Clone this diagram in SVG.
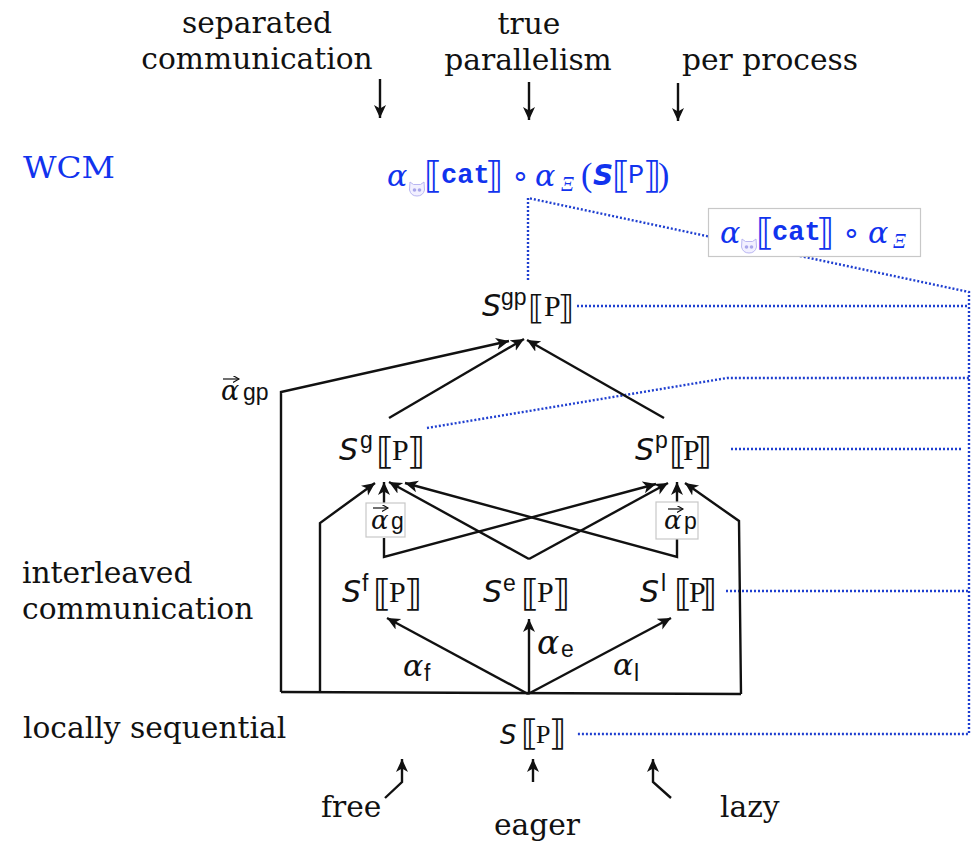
<svg xmlns="http://www.w3.org/2000/svg" width="977" height="841" viewBox="0 0 977 841">
<style>
text{font-family:"Liberation Serif","DejaVu Serif",serif;fill:#111}
.l{font-family:"DejaVu Serif","Liberation Serif",serif;font-size:29.700px}
.m{text-anchor:middle}
.s{font-family:"DejaVu Sans",sans-serif;font-style:oblique;font-size:30px}
.b{font-family:"DejaVu Sans",sans-serif;font-size:37px}
.p{font-family:"Liberation Serif",serif;font-size:30px}
.u{font-family:"Liberation Sans",sans-serif;font-size:23px}
.a{font-family:"DejaVu Serif",serif;font-style:italic;font-size:30px}
.blue text,text.blue{fill:#1133ee}
.mono{font-family:"Liberation Mono",monospace;font-weight:bold;font-size:27px}
.xi{font-family:"Liberation Serif",serif;font-style:italic;font-size:20px}
.ln{fill:none;stroke:#111;stroke-width:2.400;stroke-linejoin:miter}
.ar{marker-end:url(#h)}
.vec{fill:none;stroke:#111;stroke-width:1.200;marker-end:url(#vh)}
.dot{fill:none;stroke:#1f3fd0;stroke-width:2.400;stroke-dasharray:2 2}
.box{fill:#fff;stroke:#c8c8c8;stroke-width:1.200}
</style>
<defs>
<marker id="h" markerUnits="userSpaceOnUse" markerWidth="16" markerHeight="14" refX="13" refY="6" orient="auto"><path d="M0 0L13 6L0 12L3.500 6Z" fill="#111"/></marker>
<marker id="vh" markerUnits="userSpaceOnUse" markerWidth="8" markerHeight="8" refX="6" refY="3.500" orient="auto"><path d="M0 0L6 3.500L0 7" fill="none" stroke="#111" stroke-width="1.100"/></marker>
<g id="cat"><path d="M-7-7L-3.500-4.500H3.500L7-7L7.500 1Q6 7 0 7Q-6 7-7.500 1Z" fill="#f2f0ff" stroke="#b9b6f2" stroke-width="1"/><circle cx="-2.500" cy="1" r="1.800" fill="#a9a6ea"/><circle cx="2.500" cy="1" r="1.800" fill="#a9a6ea"/></g>
</defs>

<g id="connectors">
<path class="dot" d="M528 280V198L969 292V734H576"/>
<path class="dot" d="M577 306H969"/>
<path class="dot" d="M427 428L727 378H969"/>
<path class="dot" d="M731 449H962"/>
<path class="dot" d="M726 591H969"/>

<path class="ln ar" d="M389 418L524 339"/>
<path class="ln ar" d="M664 418L527 340"/>
<path class="ln ar" d="M281 692V392L509 341"/>
<path class="ln" d="M281 692L741 694"/>
<path class="ln ar" d="M320 692V523L375 483"/>
<path class="ln ar" d="M741 694L739 521L685 483"/>
<path class="ln ar" d="M384 535V482"/>
<path class="ln ar" d="M384 538V557L656 484"/>
<path class="ln ar" d="M529 559L389 482"/>
<path class="ln ar" d="M529 559L668 483"/>
<path class="ln ar" d="M677 535V482"/>
<path class="ln ar" d="M677 538V557L405 483"/>
<path class="ln ar" d="M528 694L387 618"/>
<path class="ln ar" d="M529 694V619"/>
<path class="ln ar" d="M528 694L671 618"/>
<path class="ln ar" d="M385 798L402 782V759"/>
<path class="ln ar" d="M533 782V759"/>
<path class="ln ar" d="M671 798L653 782V759"/>
<path class="ln ar" d="M380 79V118"/>
<path class="ln ar" d="M529 82V120"/>
<path class="ln ar" d="M678 83V121"/>
</g>

<g id="top-labels">
<text class="l m" x="257" y="33">separated</text>
<text class="l m" x="257" y="69">communication</text>
<text class="l m" x="529" y="34">true</text>
<text class="l m" x="528" y="70">parallelism</text>
<text class="l m" x="770" y="70">per process</text>
</g>
<g id="side-labels">
<text class="l blue" x="23" y="178" textLength="92" lengthAdjust="spacingAndGlyphs">WCM</text>
<text class="l" x="22" y="583">interleaved</text>
<text class="l" x="22" y="619">communication</text>
<text class="l" x="23" y="738">locally sequential</text>
</g>

<g id="wcm-formula" class="blue">
<use href="#cat" x="417" y="189"/>
<text><tspan class="a" x="387" y="186">α</tspan><tspan class="b" x="424" y="188">⟦</tspan><tspan class="mono" x="441" y="183">cat</tspan><tspan class="b" x="485" y="188">⟧</tspan><tspan class="p" x="511" y="186">∘</tspan><tspan class="a" x="535" y="186">α</tspan><tspan class="xi" x="561" y="191">Ξ</tspan><tspan class="p" x="581" y="186" style="font-size:34px">(</tspan><tspan x="593" y="185" style="font-family:'DejaVu Sans',sans-serif;font-style:oblique;font-weight:bold;font-size:28px">S</tspan><tspan class="b" x="612" y="188">⟦</tspan><tspan x="628" y="183" style="font-family:'Liberation Mono',monospace;font-size:27px">P</tspan><tspan class="b" x="643" y="188">⟧</tspan><tspan class="p" x="658" y="186" style="font-size:34px">)</tspan></text>
</g>

<g id="abstraction-box" class="blue">
<rect class="box" x="708.500" y="208.500" width="212" height="48"/>
<use href="#cat" x="749" y="246"/>
<text><tspan class="a" x="720" y="243">α</tspan><tspan class="b" x="756" y="245">⟦</tspan><tspan class="mono" x="772" y="240">cat</tspan><tspan class="b" x="816" y="245">⟧</tspan><tspan class="p" x="842" y="243">∘</tspan><tspan class="a" x="868" y="243">α</tspan><tspan class="xi" x="893" y="248">Ξ</tspan></text>
</g>

<g id="node-sgp">
<text><tspan class="s" x="482" y="316">S</tspan><tspan class="u" x="501" y="305">gp</tspan><tspan class="b" x="528" y="319" style="font-size:33px">⟦</tspan><tspan class="p" x="544" y="316">P</tspan><tspan class="b" x="558" y="319" style="font-size:33px">⟧</tspan></text>
</g>
<g id="node-sg">
<text><tspan class="s" x="339" y="460">S</tspan><tspan class="u" x="360" y="448">g</tspan><tspan class="b" x="376" y="464">⟦</tspan><tspan class="p" x="392" y="460">P</tspan><tspan class="b" x="407" y="464">⟧</tspan></text>
</g>
<g id="node-sp">
<text><tspan class="s" x="635" y="460">S</tspan><tspan class="u" x="655" y="448">p</tspan><tspan class="b" x="669" y="464">⟦</tspan><tspan class="p" x="683" y="460">P</tspan><tspan class="b" x="694" y="464">⟧</tspan></text>
</g>
<g id="node-sf">
<text><tspan class="s" x="342" y="602">S</tspan><tspan class="u" x="362" y="591">f</tspan><tspan class="b" x="373" y="606">⟦</tspan><tspan class="p" x="389" y="602">P</tspan><tspan class="b" x="404" y="606">⟧</tspan></text>
</g>
<g id="node-se">
<text><tspan class="s" x="483" y="602">S</tspan><tspan class="u" x="503" y="591">e</tspan><tspan class="b" x="521" y="606">⟦</tspan><tspan class="p" x="537" y="602">P</tspan><tspan class="b" x="552" y="606">⟧</tspan></text>
</g>
<g id="node-sl">
<text><tspan class="s" x="640" y="602">S</tspan><tspan class="u" x="661" y="591">l</tspan><tspan class="b" x="674" y="606">⟦</tspan><tspan class="p" x="689" y="602">P</tspan><tspan class="b" x="699" y="606">⟧</tspan></text>
</g>
<g id="node-s">
<text><tspan class="s" x="500" y="744" style="font-size:26px">S</tspan><tspan class="b" x="521" y="745" style="font-size:35px">⟦</tspan><tspan class="p" x="536" y="743" style="font-size:26px">P</tspan><tspan class="b" x="549" y="745" style="font-size:35px">⟧</tspan></text>
</g>

<g id="alpha-labels">
<path class="vec" d="M223 379H239"/>
<text><tspan class="a" x="221" y="400" style="font-size:27px">α</tspan><tspan class="u" x="243" y="400">gp</tspan></text>
<rect class="box" x="366" y="503" width="39" height="34"/>
<rect class="box" x="656" y="502" width="42" height="37"/>
<path class="vec" d="M373 508H388"/>
<path class="vec" d="M668 509H683"/>
<text><tspan class="a" x="371" y="529" style="font-size:26px">α</tspan><tspan class="u" x="391" y="529">g</tspan></text>
<text><tspan class="a" x="664" y="529" style="font-size:26px">α</tspan><tspan class="u" x="684" y="529">p</tspan></text>
<text><tspan class="a" x="403" y="676">α</tspan><tspan class="u" x="424" y="681">f</tspan></text>
<text><tspan class="a" x="537" y="654" style="font-size:33px">α</tspan><tspan class="u" x="561" y="657">e</tspan></text>
<text><tspan class="a" x="613" y="675">α</tspan><tspan class="u" x="634" y="681">l</tspan></text>
</g>

<g id="bottom-labels">
<text class="l" x="321" y="817">free</text>
<text class="l m" x="537" y="835">eager</text>
<text class="l" x="720" y="817">lazy</text>
</g>
</svg>
